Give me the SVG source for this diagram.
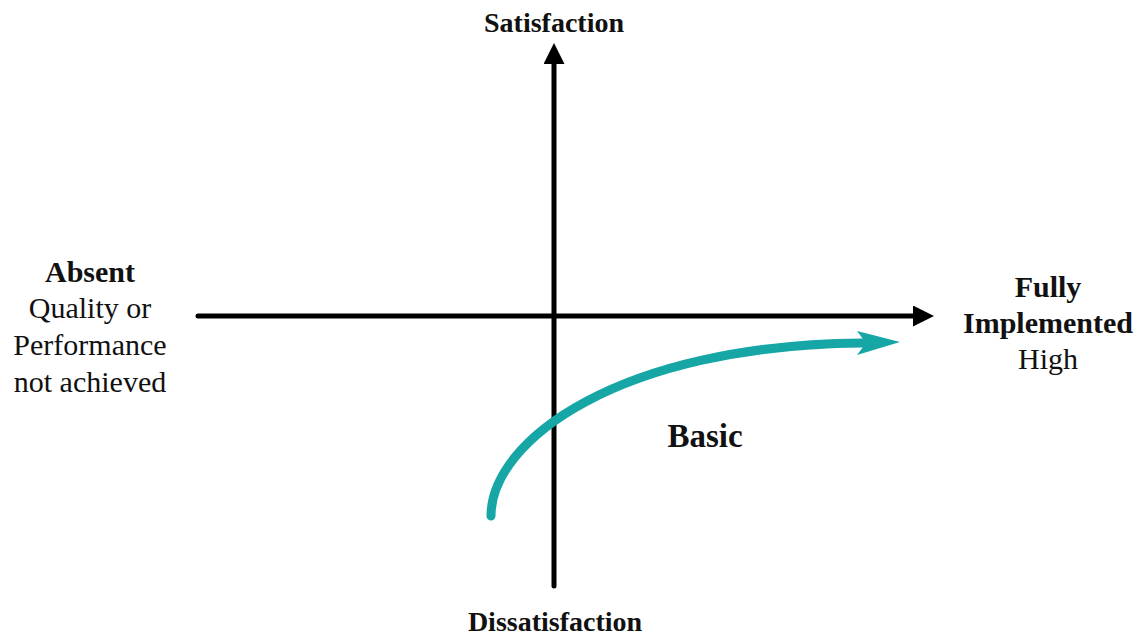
<svg xmlns="http://www.w3.org/2000/svg" width="1144" height="639" viewBox="0 0 1144 639">
<style>
.t{font-family:"Liberation Serif","Times New Roman",serif;fill:#111;text-anchor:middle}
.b{font-weight:bold}
.axis{stroke:#000;stroke-width:5;fill:none;stroke-linecap:round}
.curve{stroke:#17a6a6;stroke-width:9;fill:none;stroke-linecap:round}
</style>
<defs>
<marker id="ah" viewBox="0 0 10 10" refX="0" refY="5" markerWidth="4.2" markerHeight="4.2" orient="auto" markerUnits="strokeWidth">
<path d="M0,0 L10,5 L0,10 Z" fill="#000"/>
</marker>
</defs>
<rect width="1144" height="639" fill="#fff"/>
<g id="connectors">
<line class="axis" x1="554" y1="586" x2="554" y2="64" marker-end="url(#ah)"/>
<line class="axis" x1="198" y1="316" x2="913" y2="316" marker-end="url(#ah)"/>
</g>
<g id="curve-basic">
<path class="curve" d="M491,516 C491,440 620,345 862,343"/>
<path d="M900,342 L857,331 L866,343 L857,355 Z" fill="#17a6a6"/>
</g>
<g id="label-satisfaction"><text class="t b" x="554" y="32" font-size="28">Satisfaction</text></g>
<g id="label-dissatisfaction"><text class="t b" x="555" y="631" font-size="28">Dissatisfaction</text></g>
<g id="label-absent">
<text class="t b" x="90" y="282" font-size="30">Absent</text>
<text class="t" x="90" y="318" font-size="30">Quality or</text>
<text class="t" x="90" y="355" font-size="30">Performance</text>
<text class="t" x="90" y="392" font-size="30">not achieved</text>
</g>
<g id="label-fully">
<text class="t b" x="1048" y="297" font-size="30">Fully</text>
<text class="t b" x="1048" y="333" font-size="30">Implemented</text>
<text class="t" x="1048" y="369" font-size="30">High</text>
</g>
<g id="label-basic"><text class="t b" x="705" y="447" font-size="33">Basic</text></g>
</svg>
